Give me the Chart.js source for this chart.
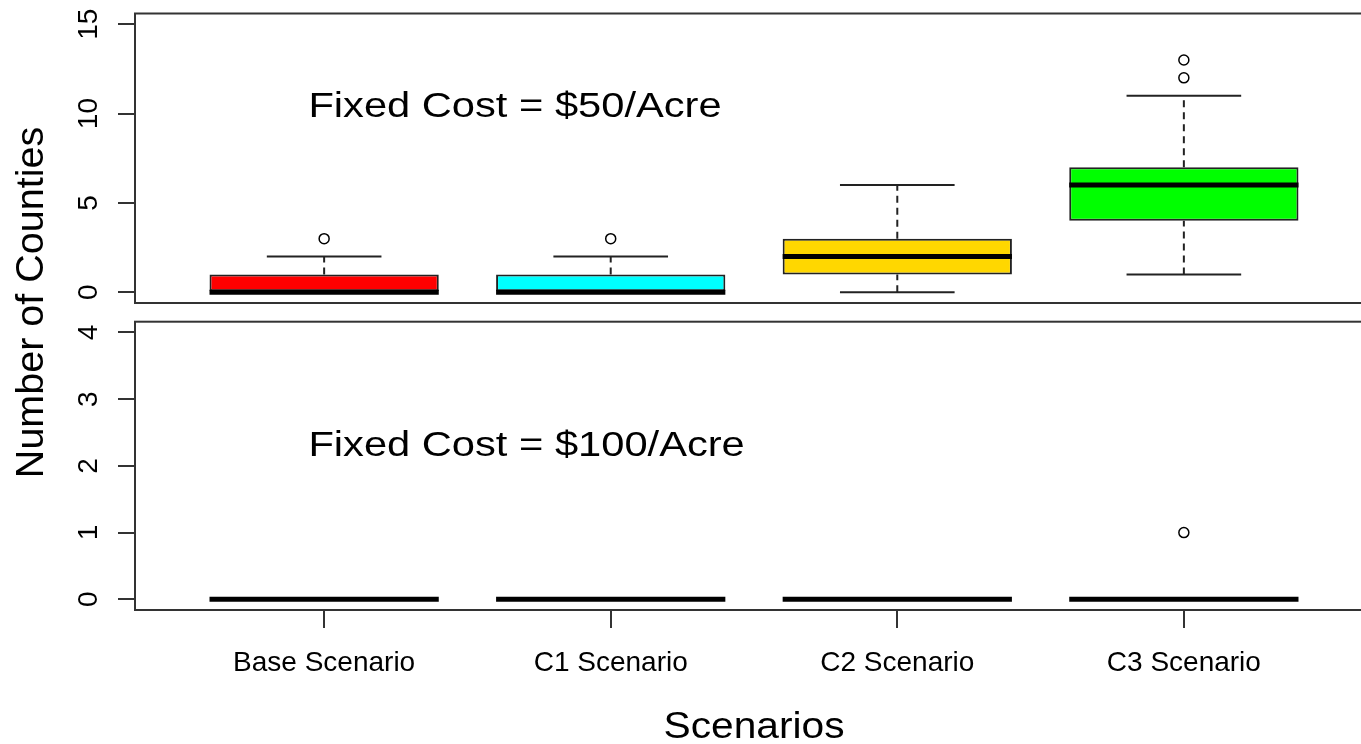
<!DOCTYPE html>
<html>
<head>
<meta charset="utf-8">
<title>Number of Counties by Scenario</title>
<script src="https://cdn.jsdelivr.net/npm/chart.js@4.4.1/dist/chart.umd.min.js"></script>
<style>
  html, body { margin: 0; padding: 0; background: #fff; overflow: hidden; }
  #wrap { position: relative; width: 1361px; height: 744px; overflow: hidden; background: #fff; }
  #wrap canvas { position: absolute; left: 0; top: 0; }
</style>
</head>
<body>
<div id="wrap">
  <canvas id="panelTop" width="1400" height="744"></canvas>
  <canvas id="panelBottom" width="1400" height="744"></canvas>
</div>
<script>
// ---- data ----
const categories = ['Base Scenario', 'C1 Scenario', 'C2 Scenario', 'C3 Scenario'];
const positions = [1, 2, 3, 4];

// Fixed cost = $50/acre
const lowWhisker50 = [0, 0, 0, 1];
const q1_50 = [0, 0, 1, 4];
const median50 = [0, 0, 2, 6];
const q3_50 = [1, 1, 3, 7];
const highWhisker50 = [2, 2, 6, 11];
const outliers50 = [[3], [3], [], [12, 13]];

// Fixed cost = $100/acre
const lowWhisker100 = [0, 0, 0, 0];
const q1_100 = [0, 0, 0, 0];
const median100 = [0, 0, 0, 0];
const q3_100 = [0, 0, 0, 0];
const highWhisker100 = [0, 0, 0, 0];
const outliers100 = [[], [], [], [1]];

const yTicks50 = [0, 5, 10, 15];
const yTicks100 = [0, 1, 2, 3, 4];

const boxColors = ['#FF0000', '#00FFFF', '#FFD700', '#00FF00'];

// ---- styling ----
const FONT = "'Liberation Sans', Arial, Helvetica, sans-serif";
const INK = '#222222';
const FRAME = '#333333';
const X_MIN = 0.34, X_MAX = 4.66;

function halfSpan(chart, units) {
  const s = chart.scales.x;
  return Math.abs(s.getPixelForValue(units) - s.getPixelForValue(0));
}

function buildDatasets(lo, q1, med, q3, hi, outs) {
  const whiskers = [];
  positions.forEach((x, i) => {
    whiskers.push({ x, y: lo[i] }, { x, y: q1[i] }, { x, y: null });
    whiskers.push({ x, y: q3[i] }, { x, y: hi[i] }, { x, y: null });
  });
  const caps = [];
  positions.forEach((x, i) => { caps.push({ x, y: lo[i] }, { x, y: hi[i] }); });
  const outlierPts = [];
  positions.forEach((x, i) => outs[i].forEach(v => outlierPts.push({ x, y: v })));

  return [
    {
      type: 'line', order: 5, data: whiskers,
      borderColor: INK, borderWidth: 2, borderDash: [7, 5],
      pointRadius: 0, spanGaps: false, fill: false
    },
    {
      type: 'scatter', order: 4, data: caps,
      pointStyle: 'line', pointBorderColor: INK, pointBorderWidth: 2,
      pointRadius: ctx => halfSpan(ctx.chart, 0.2)
    },
    {
      type: 'bar', order: 3,
      data: positions.map((x, i) => ({ x, y: [q1[i], q3[i]] })),
      backgroundColor: boxColors, borderColor: INK, borderWidth: 2,
      borderSkipped: false, categoryPercentage: 0.8, barPercentage: 1.0
    },
    {
      type: 'scatter', order: 2,
      data: positions.map((x, i) => ({ x, y: med[i] })),
      pointStyle: 'line', pointBorderColor: '#000', pointBorderWidth: 5,
      pointRadius: ctx => halfSpan(ctx.chart, 0.4)
    },
    {
      type: 'scatter', order: 1, data: outlierPts,
      pointStyle: 'circle', pointRadius: 5, pointBorderWidth: 1.5,
      pointBorderColor: '#000', pointBackgroundColor: 'rgba(255,255,255,0)'
    }
  ];
}

// frame, rotated y tick labels and free text
const panelDecor = {
  id: 'panelDecor',
  afterDraw(chart, args, opts) {
    const ctx = chart.ctx;
    const a = chart.chartArea;
    const ys = chart.scales.y;
    const xs = chart.scales.x;
    ctx.save();
    // plot frame
    ctx.strokeStyle = FRAME;
    ctx.lineWidth = 2;
    ctx.strokeRect(a.left, a.top, a.right - a.left, a.bottom - a.top);

    // y tick labels, reading upward
    ctx.fillStyle = '#000';
    ctx.font = '28px ' + FONT;
    ctx.textAlign = 'center';
    ctx.textBaseline = 'alphabetic';
    ys.ticks.forEach(t => {
      ctx.save();
      ctx.translate(opts.tickLabelX, ys.getPixelForValue(t.value));
      ctx.rotate(-Math.PI / 2);
      ctx.fillText(String(t.value), 0, 0);
      ctx.restore();
    });

    // panel annotation
    if (opts.note) {
      ctx.save();
      ctx.font = opts.note.size + 'px ' + FONT;
      ctx.textAlign = 'left';
      ctx.translate(xs.getPixelForValue(opts.note.x), ys.getPixelForValue(opts.note.y));
      ctx.scale(opts.note.stretch, 1);
      ctx.fillText(opts.note.text, 0, 0);
      ctx.restore();
    }

    // axis titles
    if (opts.xTitle) {
      ctx.save();
      ctx.font = opts.xTitle.size + 'px ' + FONT;
      ctx.textAlign = 'center';
      ctx.translate((a.left + a.right) / 2, opts.xTitle.baseline);
      ctx.scale(opts.xTitle.stretch, 1);
      ctx.fillText(opts.xTitle.text, 0, 0);
      ctx.restore();
    }
    if (opts.yTitle) {
      ctx.save();
      ctx.font = opts.yTitle.size + 'px ' + FONT;
      ctx.textAlign = 'center';
      ctx.translate(opts.yTitle.baseline, opts.yTitle.center);
      ctx.rotate(-Math.PI / 2);
      ctx.fillText(opts.yTitle.text, 0, 0);
      ctx.restore();
    }
    ctx.restore();
  }
};

function yScale(min, max, ticks) {
  return {
    type: 'linear', min, max,
    afterBuildTicks: s => { s.ticks = ticks.map(v => ({ value: v })); },
    afterFit: s => { s.width = 17; },
    ticks: { display: false },
    grid: { drawOnChartArea: false, drawTicks: true, tickLength: 17, color: FRAME, lineWidth: 2 },
    border: { display: false }
  };
}

function xScale(extra) {
  return Object.assign({
    type: 'linear', min: X_MIN, max: X_MAX, offset: false,
    afterBuildTicks: s => { s.ticks = positions.map(v => ({ value: v })); },
    grid: { offset: false, drawOnChartArea: false, drawTicks: true, tickLength: 18, color: FRAME, lineWidth: 2 },
    border: { display: false }
  }, extra);
}

const common = {
  responsive: false,
  animation: false,
  events: [],
  plugins: { legend: { display: false }, tooltip: { enabled: false } }
};

// upper panel: $50/acre
new Chart(document.getElementById('panelTop'), {
  type: 'bar',
  data: { datasets: buildDatasets(lowWhisker50, q1_50, median50, q3_50, highWhisker50, outliers50) },
  options: {
    ...common,
    layout: { padding: { left: 118, top: 13.5, right: 27, bottom: 441 } },
    scales: {
      x: xScale({ display: false }),
      y: yScale(-0.6, 15.6, yTicks50)
    },
    plugins: {
      ...common.plugins,
      panelDecor: {
        tickLabelX: 97,
        note: { text: 'Fixed Cost = $50/Acre', x: 0.945, y: 9.8, size: 35, stretch: 1.19 }
      }
    }
  },
  plugins: [panelDecor]
});

// lower panel: $100/acre, with shared axis titles
new Chart(document.getElementById('panelBottom'), {
  type: 'bar',
  data: { datasets: buildDatasets(lowWhisker100, q1_100, median100, q3_100, highWhisker100, outliers100) },
  options: {
    ...common,
    layout: { padding: { left: 118, top: 321.7, right: 27, bottom: 0 } },
    scales: {
      x: xScale({
        afterFit: s => { s.height = 134; },
        ticks: {
          callback: (v, i) => categories[i],
          font: { family: FONT, size: 28 }, color: '#000',
          padding: 18, maxRotation: 0, minRotation: 0, autoSkip: false
        }
      }),
      y: yScale(-0.16, 4.16, yTicks100)
    },
    plugins: {
      ...common.plugins,
      panelDecor: {
        tickLabelX: 97,
        note: { text: 'Fixed Cost = $100/Acre', x: 0.945, y: 2.15, size: 35, stretch: 1.19 },
        xTitle: { text: 'Scenarios', baseline: 738, size: 37, stretch: 1.1 },
        yTitle: { text: 'Number of Counties', baseline: 43, center: 302.5, size: 39.5 }
      }
    }
  },
  plugins: [panelDecor]
});
</script>
</body>
</html>
